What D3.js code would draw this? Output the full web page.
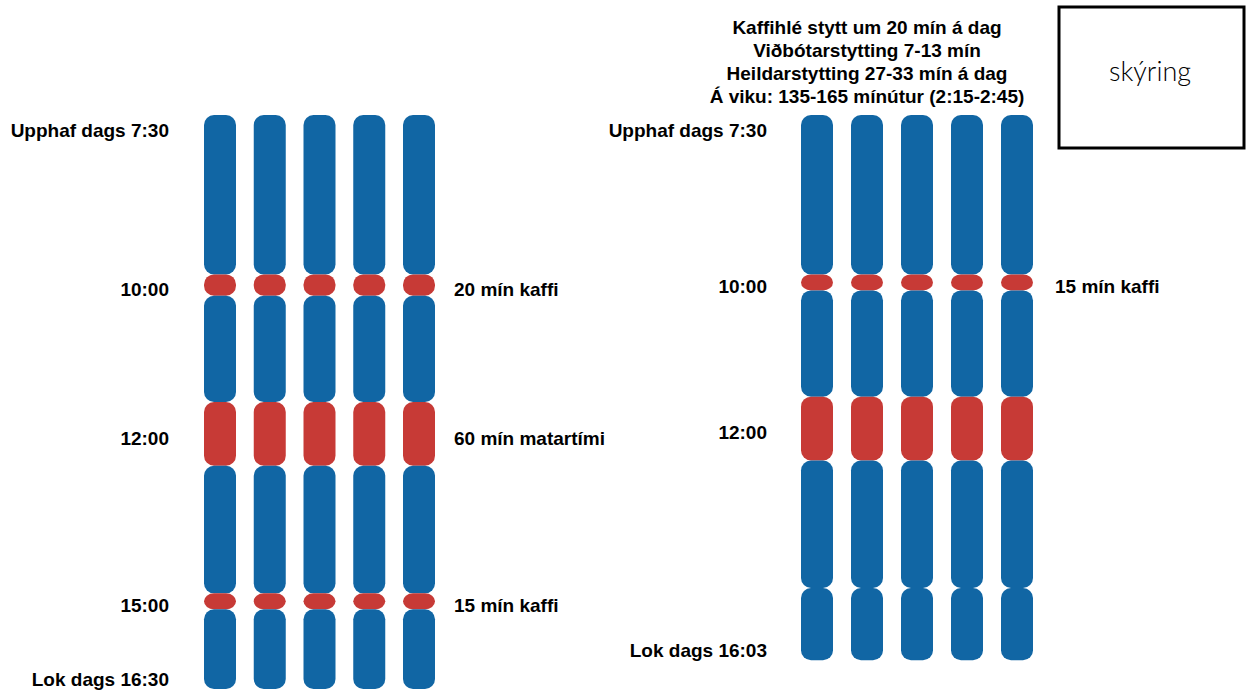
<!DOCTYPE html>
<html>
<head>
<meta charset="utf-8">
<script src="https://cdn.jsdelivr.net/npm/d3@7"></script>
<style>
  body { margin: 0; background: white; }
  svg { display: block; }
</style>
</head>
<body>
<div id="d3-container"></div>
<script>
// days of the week, one column each
let days = ['Mán', 'Þri', 'Mið', 'Fim', 'Fös'];

// segments of the day in minutes from 7:30 (work / break)
let nowDuration = [150, 20, 100, 60, 120, 15, 75];
let nowType = ['work', 'break', 'work', 'break', 'work', 'break', 'work'];
let newDuration = [150, 15, 100, 60, 120, 68];
let newType = ['work', 'break', 'work', 'break', 'work', 'work'];

// labels: left side times and right side break names
let nowTimeLabels = ['Upphaf dags 7:30', '10:00', '12:00', '15:00', 'Lok dags 16:30'];
let nowTimeSeg = [-1, 1, 3, 5, 99];
let nowBreakLabels = ['20 mín kaffi', '60 mín matartími', '15 mín kaffi'];
let nowBreakSeg = [1, 3, 5];
let newTimeLabels = ['Upphaf dags 7:30', '10:00', '12:00', 'Lok dags 16:03'];
let newTimeSeg = [-1, 1, 3, 99];
let newBreakLabels = ['15 mín kaffi'];
let newBreakSeg = [1];

let titleLines = [
  'Kaffihlé stytt um 20 mín á dag',
  'Viðbótarstytting 7-13 mín',
  'Heildarstytting 27-33 mín á dag',
  'Á viku: 135-165 mínútur (2:15-2:45)',
];

let width = 1247, height = 690;
let colors = { work: '#1166a4', break: '#c73a36' };

let svg = d3
  .select('#d3-container')
  .append('svg')
  .attr('width', width)
  .attr('height', height)
  .style('font-family', "'Liberation Sans', Arial, sans-serif");

// minutes after 7:30 -> pixel
let yScale = d3.scaleLinear().domain([0, 540]).range([115, 689]);

function drawPanel(durations, types, xRange, timeLabels, timeSeg, breakLabels, breakSeg, leftX, rightX) {
  let xScale = d3.scalePoint().domain(days).range(xRange);
  let barW = 32;

  let starts = [];
  let acc = 0;
  durations.forEach(function (d) {
    starts.push(acc);
    acc += d;
  });
  let total = acc;
  let segs = durations.map(function (d, i) {
    return { start: starts[i], dur: d, type: types[i] };
  });

  let g = svg.append('g');
  days.forEach(function (day) {
    g.selectAll(null)
      .data(segs)
      .enter()
      .append('rect')
      .attr('x', xScale(day) - barW / 2)
      .attr('y', function (d) { return yScale(d.start); })
      .attr('width', barW)
      .attr('height', function (d) { return yScale(d.start + d.dur) - yScale(d.start); })
      .attr('rx', 10)
      .attr('ry', 10)
      .attr('fill', function (d) { return colors[d.type]; });
  });

  function labelY(s) {
    if (s < 0) return yScale(0) + 15;
    if (s >= segs.length) return yScale(total) - 10;
    let seg = segs[s];
    return (yScale(seg.start) + yScale(seg.start + seg.dur)) / 2 + 4;
  }

  g.selectAll(null)
    .data(timeLabels)
    .enter()
    .append('text')
    .attr('x', leftX)
    .attr('y', function (d, i) { return labelY(timeSeg[i]); })
    .attr('dy', '0.35em')
    .attr('text-anchor', 'end')
    .style('font-weight', 'bold')
    .style('font-size', '19px')
    .text(function (d) { return d; });

  g.selectAll(null)
    .data(breakLabels)
    .enter()
    .append('text')
    .attr('x', rightX)
    .attr('y', function (d, i) { return labelY(breakSeg[i]); })
    .attr('dy', '0.35em')
    .attr('text-anchor', 'start')
    .style('font-weight', 'bold')
    .style('font-size', '19px')
    .text(function (d) { return d; });
}

drawPanel(nowDuration, nowType, [220, 419], nowTimeLabels, nowTimeSeg, nowBreakLabels, nowBreakSeg, 169, 454);
drawPanel(newDuration, newType, [817, 1017], newTimeLabels, newTimeSeg, newBreakLabels, newBreakSeg, 767, 1055);

// title above right panel
svg.append('g')
  .selectAll('text')
  .data(titleLines)
  .enter()
  .append('text')
  .attr('x', 867)
  .attr('y', function (d, i) { return 27 + i * 23; })
  .attr('dy', '0.35em')
  .attr('text-anchor', 'middle')
  .style('font-weight', 'bold')
  .style('font-size', '19px')
  .text(function (d) { return d; });

// legend box
svg.append('rect')
  .attr('x', 1059)
  .attr('y', 7)
  .attr('width', 185)
  .attr('height', 141)
  .attr('fill', 'white')
  .attr('stroke', 'black')
  .attr('stroke-width', 3);

svg.append('text')
  .attr('x', 1150)
  .attr('y', 72)
  .attr('dy', '0.35em')
  .attr('text-anchor', 'middle')
  .style('font-family', "Lato, 'Open Sans', sans-serif")
  .style('font-weight', 300)
  .style('font-size', '27px')
  .text('skýring');
</script>
</body>
</html>
